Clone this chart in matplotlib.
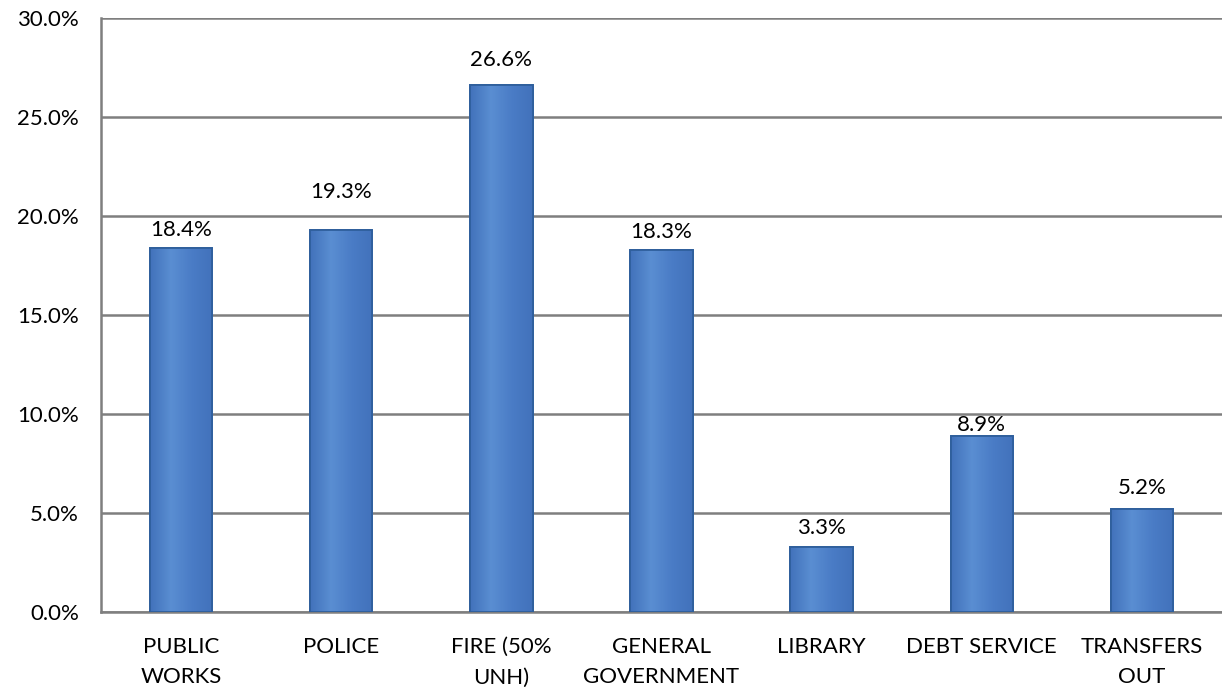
import matplotlib.pyplot as plt
import numpy as np
from matplotlib.colors import LinearSegmentedColormap

categories = ['PUBLIC\nWORKS', 'POLICE', 'FIRE (50%\nUNH)', 'GENERAL\nGOVERNMENT',
              'LIBRARY', 'DEBT SERVICE', 'TRANSFERS\nOUT']
shares = [18.4, 19.3, 26.6, 18.3, 3.3, 8.9, 5.2]
yticks = [0, 5, 10, 15, 20, 25, 30]

# how far each value label sits above its bar (points)
label_gap = [8.6, 23, 13.7, 8.6, 9.4, 3.6, 10.8]

plt.rcParams['font.family'] = ['Lato', 'DejaVu Sans']

fig = plt.figure(figsize=(12.22, 6.94), dpi=100)
ax = fig.add_axes([0.0827, 0.1182, 0.9173, 0.8559])

x = np.arange(len(categories))
bars = ax.bar(x, shares, width=0.39, color='#4a7bc6', edgecolor='#2f5f9c',
              linewidth=1.3, zorder=3)

# soft horizontal shading inside each bar
shade = LinearSegmentedColormap.from_list('shade', ['#4272bb', '#5a8ed2', '#4a7cc6', '#4272bb'])
grad = np.linspace(0, 1, 64).reshape(1, -1)
for b in bars:
    x0, w, h = b.get_x(), b.get_width(), b.get_height()
    im = ax.imshow(grad, cmap=shade, aspect='auto', extent=(x0, x0 + w, 0, h),
                   zorder=3.5, interpolation='bicubic')
    im.set_clip_path(b)
    ax.bar(b.get_x() + w / 2, h, width=w, fill=False, edgecolor='#2f5f9c',
           linewidth=1.3, zorder=4)

for xi, v, gap in zip(x, shares, label_gap):
    ax.annotate(f'{v:.1f}%', (xi, v), xytext=(0, gap), textcoords='offset points',
                ha='center', va='baseline', fontsize=16, color='black', zorder=5)

ax.set_ylim(0, 30)
ax.set_xlim(-0.5, len(categories) - 0.5)
ax.set_yticks(yticks)
ax.set_yticklabels([f'{t:.1f}%' for t in yticks], fontsize=16)
ax.set_xticks(x)
ax.set_xticklabels(categories, fontsize=16, linespacing=1.65)
ax.tick_params(axis='both', length=0)
ax.tick_params(axis='y', pad=16)
ax.tick_params(axis='x', pad=18)

ax.grid(axis='y', color='#7f7f7f', linewidth=1.8, zorder=0)
ax.set_axisbelow(True)
for side in ['top', 'right']:
    ax.spines[side].set_visible(False)
ax.spines['left'].set_color('#7f7f7f')
ax.spines['left'].set_linewidth(1.8)
ax.spines['bottom'].set_color('#7f7f7f')
ax.spines['bottom'].set_linewidth(1.8)

fig.savefig('out.png', dpi=100)
